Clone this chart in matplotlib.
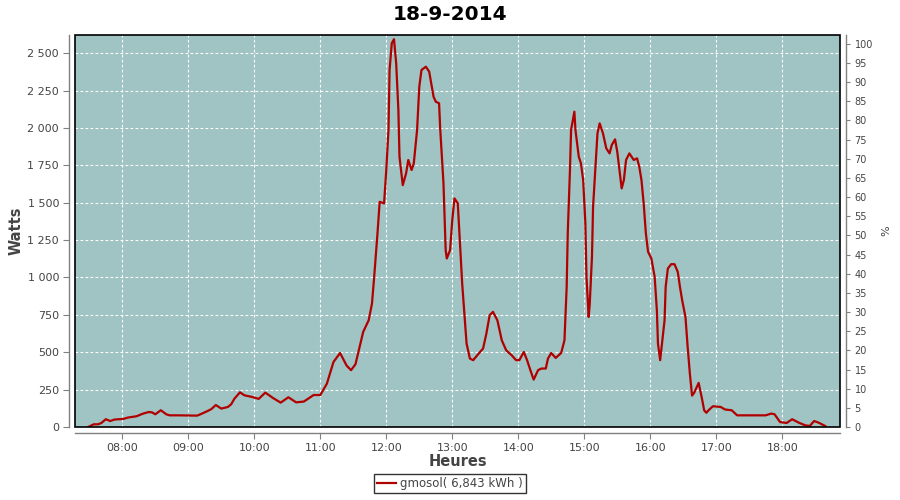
import pandas as pd
import matplotlib
matplotlib.use("Agg")
import matplotlib.pyplot as plt
import matplotlib.dates as mdates
from matplotlib.ticker import MultipleLocator, FuncFormatter
from matplotlib.patches import Rectangle

# heures de mesure et puissance (W)
heures = ["07:29", "07:34", "07:38", "07:41", "07:45", "07:49", "07:53", "08:01", "08:05", "08:13",
          "08:19", "08:24", "08:27", "08:30", "08:35", "08:40", "08:43", "08:52", "09:08", "09:11",
          "09:17", "09:21", "09:25", "09:30", "09:36", "09:39", "09:42", "09:47", "09:51", "09:58",
          "10:04", "10:10", "10:17", "10:24", "10:31", "10:38", "10:45", "10:54", "11:00", "11:06",
          "11:12", "11:18", "11:24", "11:28", "11:32", "11:35", "11:39", "11:44", "11:47", "11:49",
          "11:52", "11:54", "11:58", "12:00", "12:02", "12:03", "12:05", "12:07", "12:09", "12:11",
          "12:12", "12:15", "12:18", "12:20", "12:23", "12:25", "12:28", "12:30", "12:32", "12:36",
          "12:39", "12:43", "12:45", "12:48", "12:49", "12:52", "12:54", "12:55", "12:58", "13:00",
          "13:02", "13:05", "13:07", "13:09", "13:11", "13:13", "13:16", "13:19", "13:24", "13:28",
          "13:31", "13:34", "13:37", "13:41", "13:45", "13:49", "13:54", "13:58", "14:01", "14:05",
          "14:08", "14:11", "14:14", "14:18", "14:21", "14:25", "14:27", "14:30", "14:34", "14:39",
          "14:42", "14:44", "14:45", "14:47", "14:48", "14:51", "14:52", "14:55", "14:57", "14:59",
          "15:01", "15:02", "15:04", "15:05", "15:07", "15:08", "15:10", "15:12", "15:14", "15:17",
          "15:20", "15:23", "15:25", "15:28", "15:30", "15:32", "15:34", "15:36", "15:38", "15:41",
          "15:45", "15:48", "15:50", "15:52", "15:54", "15:56", "15:58", "16:01", "16:04", "16:06",
          "16:07", "16:09", "16:10", "16:13", "16:14", "16:16", "16:19", "16:22", "16:25", "16:27",
          "16:29", "16:32", "16:34", "16:36", "16:38", "16:40", "16:44", "16:47", "16:49", "16:51",
          "16:53", "16:57", "17:04", "17:08", "17:14", "17:19", "17:25", "17:45", "17:50", "17:53",
          "17:58", "18:04", "18:09", "18:15", "18:21", "18:25", "18:29", "18:33", "18:39"]
watts = [0, 18, 18, 27, 52, 40, 50, 54, 63, 72,
         90, 100, 98, 85, 112, 85, 78, 78, 76, 85,
         105, 120, 147, 123, 134, 152, 190, 232, 212, 201,
         188, 230, 194, 163, 199, 165, 170, 214, 214, 290,
         435, 495, 410, 380, 420, 513, 636, 714, 826, 1004,
         1295, 1506, 1496, 1719, 1986, 2388, 2567, 2594, 2433, 2120,
         1808, 1618, 1696, 1786, 1719, 1763, 1986, 2276, 2388, 2410,
         2377, 2209, 2176, 2165, 1998, 1630, 1183, 1127, 1183, 1384,
         1529, 1496, 1228, 960, 759, 558, 458, 447, 491, 525,
         625, 748, 770, 714, 580, 513, 480, 447, 447, 502,
         447, 380, 317, 380, 391, 391, 458, 495, 462, 495,
         580, 937, 1300, 1719, 1986, 2109, 1986, 1808, 1763, 1652,
         1362, 1004, 736, 826, 1138, 1473, 1719, 1964, 2031, 1964,
         1864, 1830, 1886, 1924, 1841, 1719, 1596, 1652, 1786, 1830,
         1786, 1797, 1741, 1652, 1496, 1295, 1172, 1127, 1004, 781,
         558, 447, 513, 714, 937, 1060, 1089, 1089, 1038, 937,
         848, 736, 536, 357, 210, 230, 295, 190, 112, 95,
         112, 139, 134, 117, 112, 78, 78, 78, 90, 85,
         33, 27, 52, 29, 11, 7, 40, 29, 7]

jour = "2014-09-18"
t = pd.to_datetime([jour + " " + h for h in heures])

fond = "#9fc4c3"
gris = "#808080"
texte = "#444444"

fig = plt.figure(figsize=(9, 5), dpi=100)
ax = fig.add_axes([75 / 900, 1 - 427 / 500, 765 / 900, 392 / 500])
ax.set_facecolor(fond)

ligne, = ax.plot(t, watts, color="#b00000", lw=1.6, label="gmosol( 6,843 kWh )")

ax.set_xlim(pd.Timestamp(jour + " 07:17"), pd.Timestamp(jour + " 18:52:30"))
ax.set_ylim(0, 2622)
ax.yaxis.set_major_locator(MultipleLocator(250))
ax.yaxis.set_major_formatter(FuncFormatter(lambda v, p: f"{int(v):,}".replace(",", " ")))
ax.xaxis.set_major_locator(mdates.HourLocator())
ax.xaxis.set_major_formatter(mdates.DateFormatter("%H:%M"))
ax.grid(True, color="white", ls=(0, (2.5, 2)), lw=0.8)

ax2 = ax.twinx()
ax2.set_ylim(0, 102.3)
ax2.yaxis.set_major_locator(MultipleLocator(5))

for a in (ax, ax2):
    for s in a.spines.values():
        s.set_visible(False)
ax.spines["left"].set_visible(True)
ax.spines["bottom"].set_visible(True)
ax2.spines["right"].set_visible(True)
for s in (ax.spines["left"], ax.spines["bottom"], ax2.spines["right"]):
    s.set_position(("outward", 4))
    s.set_color(gris)
    s.set_linewidth(1)

ax.add_patch(Rectangle((0, 0), 1, 1, transform=ax.transAxes, fill=False,
                       edgecolor="black", lw=1.2, zorder=10, clip_on=False))

ax.tick_params(axis="both", colors=gris, labelcolor=texte, labelsize=8, length=4, width=0.8)
ax2.tick_params(axis="y", colors=gris, labelcolor=texte, labelsize=7, length=3, width=0.8)

ax.set_ylabel("Watts", color=texte, fontsize=10.5, fontweight="bold", labelpad=3)
ax.set_xlabel("Heures", color=texte, fontsize=10.5, fontweight="bold", labelpad=1)
ax2.set_ylabel("%", color=texte, fontsize=8, labelpad=6)

fig.suptitle("18-9-2014", x=0.5, y=0.99, fontsize=14.5, fontweight="bold")

fig.legend(handles=[ligne], loc="lower center", bbox_to_anchor=(0.5, 0.002), ncol=1,
           fontsize=8.5, frameon=True, fancybox=False, edgecolor="black",
           handlelength=1.6, handletextpad=0.4, borderpad=0.25, labelcolor=texte)

fig.savefig("out.png", dpi=100)
